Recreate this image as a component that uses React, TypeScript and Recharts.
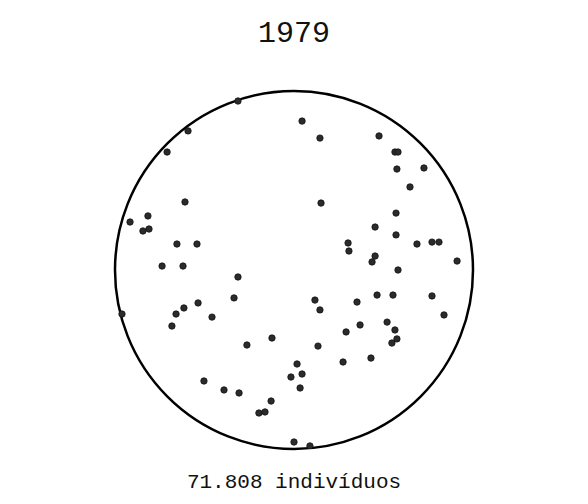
import { ReferenceDot, Scatter, ScatterChart, XAxis, YAxis } from "recharts";

// positions of each individual inside the unit circle (x, y in -1..1)
const xs = [
  -0.313, 0.045, -0.592, -0.709, -0.609, -0.816, -0.916, -0.844, -0.81, -0.654,
  -0.542, -0.737, -0.62, 0.145, 0.475, 0.564, 0.581, 0.575, 0.726, 0.648,
  0.151, 0.57, 0.453, 0.57, 0.302, 0.307, 0.687, 0.771, 0.81, 0.453,
  0.436, 0.911, 0.581, -0.313, -0.335, -0.961, -0.659, -0.615, -0.536, -0.458,
  -0.682, -0.123, -0.263, -0.503, -0.391, -0.307, -0.128, -0.196, -0.162, 0.0,
  0.089, 0.017, 0.045, -0.017, 0.034, 0.117, 0.145, 0.352, 0.464, 0.553,
  0.771, 0.838, 0.369, 0.291, 0.52, 0.564, 0.575, 0.547, 0.134, 0.43,
  0.274,
];
const ys = [
  0.944, 0.832, 0.777, 0.659, 0.38, 0.302, 0.268, 0.218, 0.229, 0.145,
  0.145, 0.022, 0.022, 0.737, 0.749, 0.659, 0.659, 0.564, 0.57, 0.464,
  0.374, 0.318, 0.24, 0.196, 0.151, 0.106, 0.145, 0.156, 0.156, 0.078,
  0.045, 0.05, 0.0, -0.039, -0.156, -0.246, -0.246, -0.212, -0.184, -0.263,
  -0.313, -0.38, -0.419, -0.62, -0.67, -0.687, -0.732, -0.799, -0.793, -0.961,
  -0.983, -0.525, -0.581, -0.598, -0.659, -0.168, -0.223, -0.179, -0.14, -0.14,
  -0.145, -0.251, -0.307, -0.346, -0.291, -0.335, -0.385, -0.408, -0.425, -0.492,
  -0.514,
];

const title = "1979";
const caption = "71.808 indivíduos";

const points = xs.map((x, i) => ({ x, y: ys[i] }));

const FONT = "'Liberation Mono', monospace";
const CIRCLE_R = 179;

const Dot = (props: any) => (
  <circle cx={props.cx} cy={props.cy} r={3.2} fill="#2b2b2b" stroke="#111" strokeWidth={0.8} />
);

export default function App() {
  return (
    <div style={{ position: "absolute", left: 0, top: 0, width: 588, height: 504, background: "#fff" }}>
      <div
        style={{
          position: "absolute",
          left: 0,
          top: 17,
          width: 588,
          textAlign: "center",
          fontFamily: FONT,
          fontSize: 30,
          color: "#111",
        }}
      >
        {title}
      </div>
      <ScatterChart width={588} height={504} margin={{ top: 91, right: 115, bottom: 55, left: 115 }}>
        <XAxis type="number" dataKey="x" domain={[-1, 1]} hide allowDataOverflow />
        <YAxis type="number" dataKey="y" domain={[-1, 1]} hide allowDataOverflow />
        <ReferenceDot
          x={0}
          y={0}
          r={CIRCLE_R}
          fill="none"
          stroke="#000"
          strokeWidth={2.5}
          ifOverflow="visible"
        />
        <Scatter data={points} shape={Dot} isAnimationActive={false} />
      </ScatterChart>
      <div
        style={{
          position: "absolute",
          left: 0,
          top: 471,
          width: 588,
          textAlign: "center",
          fontFamily: FONT,
          fontSize: 21,
          color: "#111",
        }}
      >
        {caption}
      </div>
    </div>
  );
}
